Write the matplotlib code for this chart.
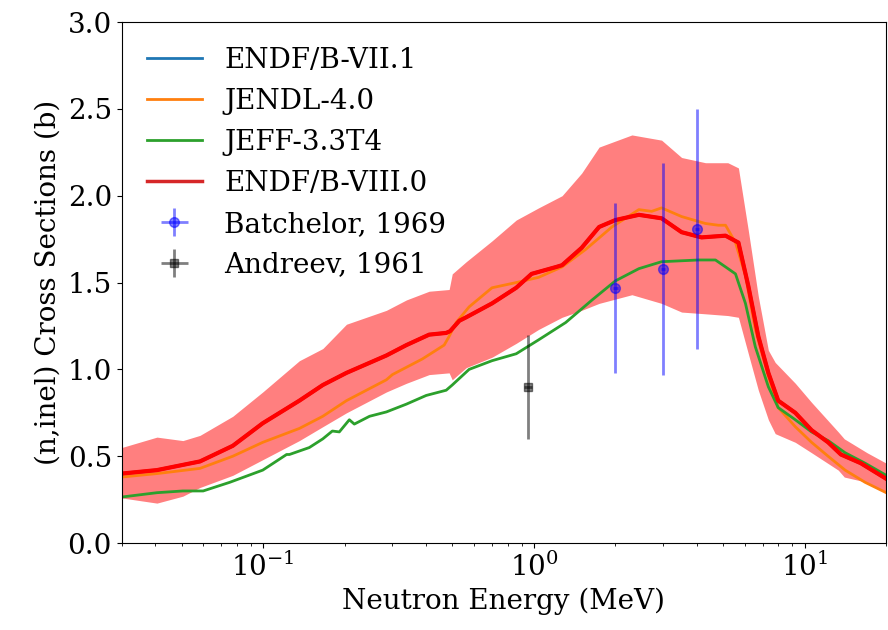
import numpy as np
import matplotlib
matplotlib.use("Agg")
import matplotlib.pyplot as plt

plt.rcParams['font.family'] = 'DejaVu Serif'
plt.rcParams['font.size'] = 20

# ENDF/B-VIII.0 (same as ENDF/B-VII.1, drawn on top of it)
e_b8 = [0.03, 0.0405, 0.0584, 0.0772, 0.0996, 0.136, 0.166, 0.203, 0.285, 0.338,
        0.41, 0.474, 0.49, 0.53, 0.562, 0.70, 0.86, 0.98, 1.21, 1.27, 1.50, 1.74,
        2.0, 2.44, 2.96, 3.51, 4.16, 5.10, 5.69, 6.19, 6.74, 7.34, 7.98, 9.23,
        10.6, 12.2, 13.6, 16.1, 20.0]
xs_b8 = [0.40, 0.42, 0.47, 0.56, 0.69, 0.82, 0.91, 0.98, 1.08, 1.14,
         1.20, 1.21, 1.22, 1.28, 1.30, 1.38, 1.47, 1.55, 1.59, 1.60, 1.70, 1.82,
         1.86, 1.89, 1.87, 1.79, 1.76, 1.77, 1.73, 1.48, 1.19, 0.98, 0.82, 0.75,
         0.65, 0.58, 0.51, 0.46, 0.37]

# JENDL-4.0
e_jendl = [0.03, 0.0405, 0.0584, 0.0772, 0.0996, 0.136, 0.166, 0.203, 0.285, 0.30,
           0.387, 0.466, 0.486, 0.516, 0.576, 0.70, 0.86, 1.04, 1.27, 1.55, 1.94,
           2.44, 2.72, 2.96, 3.51, 4.30, 4.80, 5.10, 5.55, 6.04, 6.57, 7.34, 7.98,
           9.23, 10.6, 12.2, 14.1, 16.7, 20.0]
xs_jendl = [0.38, 0.40, 0.43, 0.50, 0.58, 0.66, 0.73, 0.82, 0.94, 0.97,
            1.06, 1.14, 1.19, 1.27, 1.36, 1.47, 1.50, 1.53, 1.59, 1.69, 1.82,
            1.92, 1.91, 1.93, 1.88, 1.84, 1.83, 1.83, 1.73, 1.54, 1.23, 0.96, 0.78,
            0.67, 0.58, 0.50, 0.42, 0.35, 0.29]

# JEFF-3.3T4
e_jeff = [0.03, 0.0405, 0.0505, 0.060, 0.0753, 0.0996, 0.122, 0.125, 0.136, 0.148,
          0.166, 0.180, 0.191, 0.208, 0.217, 0.247, 0.285, 0.338, 0.40, 0.474,
          0.499, 0.576, 0.70, 0.86, 1.04, 1.31, 1.64, 2.0, 2.44, 2.96, 4.05, 4.68,
          5.10, 5.55, 6.04, 6.57, 7.34, 7.98, 9.23, 10.6, 12.2, 14.1, 16.7, 20.0]
xs_jeff = [0.265, 0.29, 0.30, 0.30, 0.35, 0.42, 0.51, 0.51, 0.53, 0.55,
           0.60, 0.645, 0.64, 0.71, 0.685, 0.73, 0.755, 0.80, 0.85, 0.88,
           0.91, 1.00, 1.05, 1.09, 1.17, 1.27, 1.40, 1.51, 1.58, 1.62, 1.63, 1.63,
           1.59, 1.55, 1.38, 1.13, 0.90, 0.78, 0.71, 0.64, 0.59, 0.52, 0.46, 0.39]

# ENDF/B-VIII.0 uncertainty band
e_band = [0.03, 0.0405, 0.0505, 0.0584, 0.0772, 0.0996, 0.136, 0.166, 0.203, 0.285,
          0.338, 0.41, 0.486, 0.499, 0.562, 0.70, 0.86, 1.04, 1.27, 1.50, 1.74,
          2.30, 2.96, 3.51, 4.30, 5.20, 5.69, 6.19, 6.74, 7.34, 7.78, 9.23, 10.6,
          13.3, 14.0, 17.0, 20.0]
band_lo = [0.26, 0.23, 0.27, 0.32, 0.39, 0.48, 0.59, 0.67, 0.75, 0.87,
           0.92, 0.97, 0.98, 0.94, 1.01, 1.07, 1.15, 1.23, 1.30, 1.34, 1.38,
           1.43, 1.38, 1.33, 1.32, 1.31, 1.30, 1.09, 0.88, 0.71, 0.63, 0.58, 0.52,
           0.42, 0.38, 0.35, 0.29]
band_hi = [0.55, 0.61, 0.59, 0.62, 0.73, 0.87, 1.05, 1.12, 1.26, 1.34,
           1.40, 1.45, 1.46, 1.55, 1.62, 1.74, 1.86, 1.93, 2.00, 2.13, 2.28,
           2.35, 2.32, 2.22, 2.19, 2.19, 2.16, 1.80, 1.42, 1.11, 1.04, 0.92, 0.81,
           0.64, 0.60, 0.52, 0.46]

# experimental data
batch_e = [2.0, 3.0, 4.0]
batch_xs = [1.47, 1.58, 1.81]
batch_err = [0.49, 0.61, 0.69]
andr_e = [0.95]
andr_xs = [0.90]
andr_err = [0.30]

fig, ax = plt.subplots(figsize=(8.88, 6.3), dpi=100)
fig.subplots_adjust(left=0.137, right=0.998, bottom=0.138, top=0.965)

ax.fill_between(e_band, band_lo, band_hi, color='red', alpha=0.5, linewidth=0)
ax.plot(e_b8, xs_b8, color='C0', lw=2, label='ENDF/B-VII.1')
ax.plot(e_jendl, xs_jendl, color='C1', lw=2, label='JENDL-4.0')
ax.plot(e_jeff, xs_jeff, color='C2', lw=2, label='JEFF-3.3T4')
ax.plot(e_b8, xs_b8, color='C3', lw=2.5, label='ENDF/B-VIII.0')
ax.plot(e_b8, xs_b8, color='red', lw=3)

ax.errorbar(batch_e, batch_xs, yerr=batch_err, xerr=[0.04, 0.06, 0.08], fmt='o',
            color='blue', alpha=0.5, ms=7, elinewidth=2, label='Batchelor, 1969')
ax.errorbar(andr_e, andr_xs, yerr=andr_err, xerr=[0.03], fmt='s',
            color='black', alpha=0.5, ms=6, elinewidth=2, label='Andreev, 1961')

ax.set_xscale('log')
ax.set_xlim(0.03, 20)
ax.set_ylim(0, 3.0)
ax.set_xlabel('Neutron Energy (MeV)')
ax.set_ylabel('(n,inel) Cross Sections (b)')
ax.legend(loc='upper left', frameon=False, fontsize=20)

plt.savefig('out.png')
